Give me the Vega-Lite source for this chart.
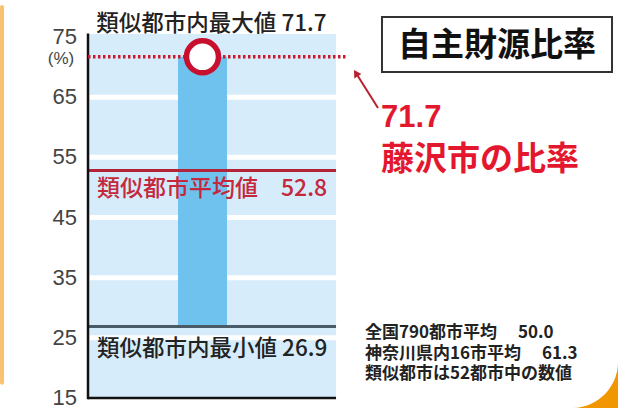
{
  "$schema": "https://vega.github.io/schema/vega-lite/v6.json",
  "width": 530,
  "height": 408,
  "padding": {"left": 88, "top": 0, "right": 0, "bottom": 0},
  "autosize": {"type": "none"},
  "background": "white",
  "config": {"view": {"stroke": null}, "font": "Noto Sans CJK JP"},
  "layer": [
    {
      "data": {"values": [{"panel": "plot"}]},
      "mark": {"type": "rect", "fill": "#d6ecfa"},
      "encoding": {
        "x": {"datum": 0, "type": "quantitative", "scale": {"domain": [0, 100], "nice": false, "zero": false}, "axis": null},
        "x2": {"datum": 46.8},
        "y": {"datum": 15, "type": "quantitative", "scale": {"domain": [13.34, 81.15], "nice": false, "zero": false}, "axis": null},
        "y2": {"datum": 75.5}
      }
    },
    {
      "data": {"values": [{"axis": "left"}]},
      "mark": {"type": "rect", "fill": "#f8c271", "cornerRadius": 2},
      "encoding": {
        "x": {"datum": -16.6, "type": "quantitative", "scale": {"domain": [0, 100], "nice": false, "zero": false}, "axis": null},
        "x2": {"datum": -15.85},
        "y": {"datum": 80.3, "type": "quantitative", "scale": {"domain": [13.34, 81.15], "nice": false, "zero": false}, "axis": null},
        "y2": {"datum": 17.2}
      }
    },
    {
      "data": {"values": [{"corner": "br"}]},
      "mark": {"type": "point", "shape": "M 1 -1 C 1 0.105 0.105 1 -1 1 L 1 1 Z", "size": 2116, "filled": true, "fill": "#f29600", "opacity": 1, "strokeWidth": 0},
      "encoding": {
        "x": {"datum": 95.66, "type": "quantitative", "scale": {"domain": [0, 100], "nice": false, "zero": false}, "axis": null},
        "y": {"datum": 17.16, "type": "quantitative", "scale": {"domain": [13.34, 81.15], "nice": false, "zero": false}, "axis": null}
      }
    },
    {
      "data": {"values": [{"v": 25}, {"v": 35}, {"v": 45}, {"v": 55}, {"v": 65}]},
      "mark": {"type": "rule", "stroke": "white", "strokeWidth": 5},
      "encoding": {
        "x": {"datum": 0.3, "type": "quantitative", "scale": {"domain": [0, 100], "nice": false, "zero": false}, "axis": null},
        "x2": {"datum": 46.8},
        "y": {"field": "v", "type": "quantitative", "scale": {"domain": [13.34, 81.15], "nice": false, "zero": false}, "axis": null}
      }
    },
    {
      "data": {"values": [{"tick": 15}, {"tick": 25}, {"tick": 35}, {"tick": 45}, {"tick": 55}, {"tick": 65}, {"tick": 75}]},
      "mark": {"type": "text", "fontSize": 22, "font": "Liberation Sans", "fill": "#444", "align": "right", "baseline": "middle"},
      "encoding": {
        "x": {"datum": -2.08, "type": "quantitative", "scale": {"domain": [0, 100], "nice": false, "zero": false}, "axis": null},
        "y": {"field": "tick", "type": "quantitative", "scale": {"domain": [13.34, 81.15], "nice": false, "zero": false}, "axis": null},
        "text": {"field": "tick", "type": "quantitative"}
      }
    },
    {
      "data": {"values": [{"city": "藤沢市", "low": 26.9, "high": 71.7}]},
      "mark": {"type": "rect", "fill": "#6fc2ee"},
      "encoding": {
        "x": {"datum": 16.98, "type": "quantitative", "scale": {"domain": [0, 100], "nice": false, "zero": false}, "axis": null},
        "x2": {"datum": 26.23},
        "y": {"field": "low", "type": "quantitative", "scale": {"domain": [13.34, 81.15], "nice": false, "zero": false}, "axis": null},
        "y2": {"field": "high"}
      }
    },
    {
      "data": {"values": [{"stat": "min", "value": 26.9}]},
      "mark": {"type": "rule", "stroke": "#4a5b68", "strokeWidth": 3},
      "encoding": {
        "x": {"datum": 0, "type": "quantitative", "scale": {"domain": [0, 100], "nice": false, "zero": false}, "axis": null},
        "x2": {"datum": 46.8},
        "y": {"field": "value", "type": "quantitative", "scale": {"domain": [13.34, 81.15], "nice": false, "zero": false}, "axis": null}
      }
    },
    {
      "data": {"values": [{"stat": "mean", "value": 52.8}]},
      "mark": {"type": "rule", "stroke": "#b3233a", "strokeWidth": 3},
      "encoding": {
        "x": {"datum": 0, "type": "quantitative", "scale": {"domain": [0, 100], "nice": false, "zero": false}, "axis": null},
        "x2": {"datum": 46.8},
        "y": {"field": "value", "type": "quantitative", "scale": {"domain": [13.34, 81.15], "nice": false, "zero": false}, "axis": null}
      }
    },
    {
      "data": {"values": [{"axis": "y"}]},
      "mark": {"type": "rule", "stroke": "#111", "strokeWidth": 2.5},
      "encoding": {
        "x": {"datum": 0, "type": "quantitative", "scale": {"domain": [0, 100], "nice": false, "zero": false}, "axis": null},
        "y": {"datum": 14.8, "type": "quantitative", "scale": {"domain": [13.34, 81.15], "nice": false, "zero": false}, "axis": null},
        "y2": {"datum": 75.6}
      }
    },
    {
      "data": {"values": [{"axis": "x"}]},
      "mark": {"type": "rule", "stroke": "#111", "strokeWidth": 2.5},
      "encoding": {
        "x": {"datum": 0, "type": "quantitative", "scale": {"domain": [0, 100], "nice": false, "zero": false}, "axis": null},
        "x2": {"datum": 46.8},
        "y": {"datum": 15, "type": "quantitative", "scale": {"domain": [13.34, 81.15], "nice": false, "zero": false}, "axis": null}
      }
    },
    {
      "data": {"values": [{"stat": "max", "value": 71.7}]},
      "mark": {"type": "rule", "stroke": "#c81a2c", "strokeWidth": 3.5, "strokeDash": [2.5, 2.5]},
      "encoding": {
        "x": {"datum": 0, "type": "quantitative", "scale": {"domain": [0, 100], "nice": false, "zero": false}, "axis": null},
        "x2": {"datum": 49.06},
        "y": {"field": "value", "type": "quantitative", "scale": {"domain": [13.34, 81.15], "nice": false, "zero": false}, "axis": null}
      }
    },
    {
      "data": {"values": [{"city": "藤沢市", "value": 71.7}]},
      "mark": {"type": "point", "shape": "circle", "size": 1024, "filled": true, "fill": "white", "stroke": "#c8102e", "strokeWidth": 5.5, "opacity": 1},
      "encoding": {
        "x": {"datum": 21.6, "type": "quantitative", "scale": {"domain": [0, 100], "nice": false, "zero": false}, "axis": null},
        "y": {"field": "value", "type": "quantitative", "scale": {"domain": [13.34, 81.15], "nice": false, "zero": false}, "axis": null}
      }
    },
    {
      "data": {"values": [{"label": "類似都市内最大値 71.7"}]},
      "mark": {"type": "text", "fontSize": 22.5, "fontWeight": 500, "fill": "#222", "align": "center", "baseline": "middle"},
      "encoding": {
        "x": {"datum": 23.3, "type": "quantitative", "scale": {"domain": [0, 100], "nice": false, "zero": false}, "axis": null},
        "y": {"datum": 77.24, "type": "quantitative", "scale": {"domain": [13.34, 81.15], "nice": false, "zero": false}, "axis": null},
        "text": {"field": "label"}
      }
    },
    {
      "data": {"values": [{"label": "類似都市平均値　52.8"}]},
      "mark": {"type": "text", "fontSize": 23, "fontWeight": 500, "fill": "#c5283d", "align": "left", "baseline": "middle"},
      "encoding": {
        "x": {"datum": 1.7, "type": "quantitative", "scale": {"domain": [0, 100], "nice": false, "zero": false}, "axis": null},
        "y": {"datum": 49.74, "type": "quantitative", "scale": {"domain": [13.34, 81.15], "nice": false, "zero": false}, "axis": null},
        "text": {"field": "label"}
      }
    },
    {
      "data": {"values": [{"label": "類似都市内最小値 26.9"}]},
      "mark": {"type": "text", "fontSize": 22.5, "fontWeight": 500, "fill": "#222", "align": "left", "baseline": "middle"},
      "encoding": {
        "x": {"datum": 1.7, "type": "quantitative", "scale": {"domain": [0, 100], "nice": false, "zero": false}, "axis": null},
        "y": {"datum": 23.15, "type": "quantitative", "scale": {"domain": [13.34, 81.15], "nice": false, "zero": false}, "axis": null},
        "text": {"field": "label"}
      }
    },
    {
      "data": {"values": [{"label": "(%)"}]},
      "mark": {"type": "text", "fontSize": 17, "font": "Liberation Sans", "fill": "#444", "align": "center", "baseline": "middle"},
      "encoding": {
        "x": {"datum": -5.1, "type": "quantitative", "scale": {"domain": [0, 100], "nice": false, "zero": false}, "axis": null},
        "y": {"datum": 71.4, "type": "quantitative", "scale": {"domain": [13.34, 81.15], "nice": false, "zero": false}, "axis": null},
        "text": {"field": "label"}
      }
    },
    {
      "data": {"values": [{"box": "title"}]},
      "mark": {"type": "rect", "fill": "white", "stroke": "#333", "strokeWidth": 2},
      "encoding": {
        "x": {"datum": 55.47, "type": "quantitative", "scale": {"domain": [0, 100], "nice": false, "zero": false}, "axis": null},
        "x2": {"datum": 98.87},
        "y": {"datum": 78.32, "type": "quantitative", "scale": {"domain": [13.34, 81.15], "nice": false, "zero": false}, "axis": null},
        "y2": {"datum": 69.18}
      }
    },
    {
      "data": {"values": [{"title": "自主財源比率"}]},
      "mark": {"type": "text", "fontSize": 33, "fontWeight": "bold", "fill": "#111", "align": "center", "baseline": "middle"},
      "encoding": {
        "x": {"datum": 77.17, "type": "quantitative", "scale": {"domain": [0, 100], "nice": false, "zero": false}, "axis": null},
        "y": {"datum": 73.5, "type": "quantitative", "scale": {"domain": [13.34, 81.15], "nice": false, "zero": false}, "axis": null},
        "text": {"field": "title"}
      }
    },
    {
      "data": {"values": [{"label": "71.7"}]},
      "mark": {"type": "text", "fontSize": 31, "fontWeight": "bold", "font": "Liberation Sans", "fill": "#e3182f", "align": "left", "baseline": "middle"},
      "encoding": {
        "x": {"datum": 55.3, "type": "quantitative", "scale": {"domain": [0, 100], "nice": false, "zero": false}, "axis": null},
        "y": {"datum": 61.54, "type": "quantitative", "scale": {"domain": [13.34, 81.15], "nice": false, "zero": false}, "axis": null},
        "text": {"field": "label"}
      }
    },
    {
      "data": {"values": [{"label": "藤沢市の比率"}]},
      "mark": {"type": "text", "fontSize": 33, "fontWeight": "bold", "fill": "#e3182f", "align": "left", "baseline": "middle"},
      "encoding": {
        "x": {"datum": 55.3, "type": "quantitative", "scale": {"domain": [0, 100], "nice": false, "zero": false}, "axis": null},
        "y": {"datum": 54.64, "type": "quantitative", "scale": {"domain": [13.34, 81.15], "nice": false, "zero": false}, "axis": null},
        "text": {"field": "label"}
      }
    },
    {
      "data": {"values": [{"arrow": "to-max"}]},
      "mark": {"type": "rule", "stroke": "#b8202f", "strokeWidth": 2},
      "encoding": {
        "x": {"datum": 54.72, "type": "quantitative", "scale": {"domain": [0, 100], "nice": false, "zero": false}, "axis": null},
        "x2": {"datum": 50.7},
        "y": {"datum": 63.2, "type": "quantitative", "scale": {"domain": [13.34, 81.15], "nice": false, "zero": false}, "axis": null},
        "y2": {"datum": 68.8}
      }
    },
    {
      "data": {"values": [{"arrow": "head"}]},
      "mark": {"type": "point", "shape": "triangle-up", "size": 70, "filled": true, "fill": "#b8202f", "opacity": 1, "angle": 328, "strokeWidth": 0},
      "encoding": {
        "x": {"datum": 50.55, "type": "quantitative", "scale": {"domain": [0, 100], "nice": false, "zero": false}, "axis": null},
        "y": {"datum": 69.0, "type": "quantitative", "scale": {"domain": [13.34, 81.15], "nice": false, "zero": false}, "axis": null}
      }
    },
    {
      "data": {"values": [{"lines": ["全国790都市平均　 50.0", "神奈川県内16市平均　 61.3", "類似都市は52都市中の数値"]}]},
      "mark": {"type": "text", "fontSize": 17, "fontWeight": "bold", "fill": "#222", "align": "left", "baseline": "middle", "lineHeight": 20.5},
      "encoding": {
        "x": {"datum": 52.26, "type": "quantitative", "scale": {"domain": [0, 100], "nice": false, "zero": false}, "axis": null},
        "y": {"datum": 25.8, "type": "quantitative", "scale": {"domain": [13.34, 81.15], "nice": false, "zero": false}, "axis": null},
        "text": {"field": "lines"}
      }
    }
  ]
}
